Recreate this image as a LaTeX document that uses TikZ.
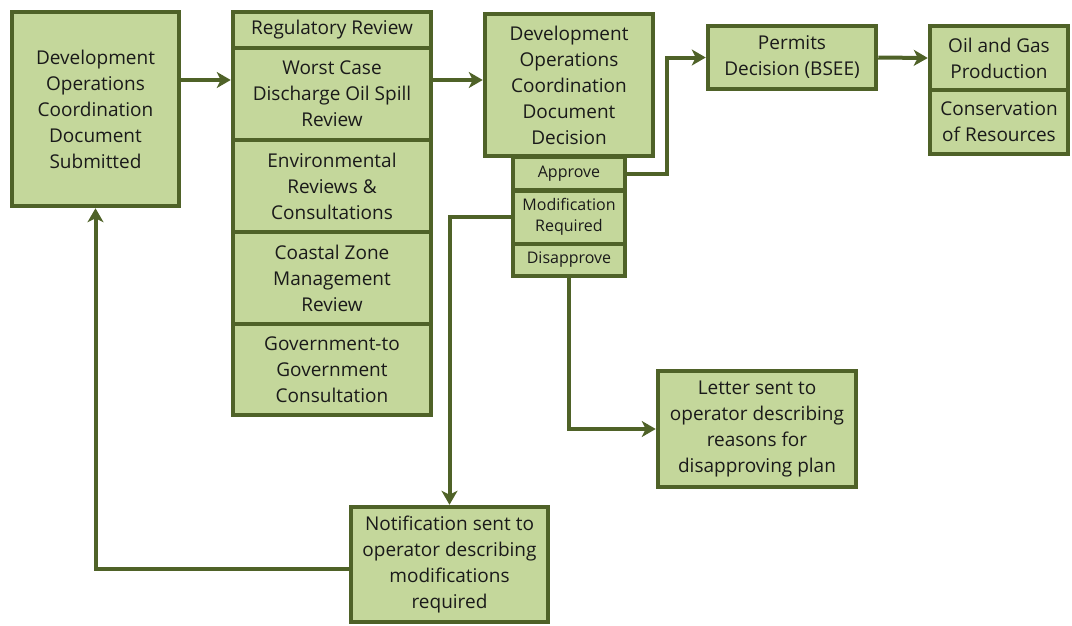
\documentclass[tikz,border=0pt]{standalone}
\usepackage{fontspec}
\setmainfont{Open Sans}
\usetikzlibrary{arrows, arrows.meta}
\usetikzlibrary{calc}

\definecolor{boxfill}{HTML}{C4D79B}
\definecolor{boxline}{HTML}{4F6228}
\definecolor{boxtext}{HTML}{1A1A1A}

\tikzset{
  box/.style={rectangle, draw=boxline, fill=boxfill, line width=4.5pt, inner sep=0pt,
    align=center, text=boxtext, font=\fontsize{19}{26}\selectfont},
  smallbox/.style={box, line width=4pt, font=\fontsize{16}{21}\selectfont},
  flow/.style={draw=boxline, line width=4pt, -{Stealth[length=14pt, width=16pt, inset=4pt]}},
}

\begin{document}
\begin{tikzpicture}[x=1pt, y=-1pt]
      \useasboundingbox (0,0) rectangle (1072,625);

      % first column
      \node[box, minimum width=167pt, minimum height=194pt] (sub) at (95.5,109)
        {Development\\Operations\\Coordination\\Document\\Submitted};

      % review stack
      \node[box, minimum width=198pt, minimum height=36pt] (reg) at (332,30) {Regulatory Review};
      \node[box, minimum width=198pt, minimum height=92pt] (worst) at (332,94) {Worst Case\\Discharge Oil Spill\\Review};
      \node[box, minimum width=198pt, minimum height=92pt] (env) at (332,186) {Environmental\\Reviews \&\\Consultations};
      \node[box, minimum width=198pt, minimum height=92pt] (czm) at (332,278) {Coastal Zone\\Management\\Review};
      \node[box, minimum width=198pt, minimum height=91pt] (g2g) at (332,369.5) {Government-to\\Government\\Consultation};

      % decision
      \node[box, minimum width=168pt, minimum height=142pt] (docd) at (569,85)
        {Development\\Operations\\Coordination\\Document\\Decision};
      \node[smallbox, minimum width=112pt, minimum height=33pt] (approve) at (569,173.5) {Approve};
      \node[smallbox, minimum width=112pt, minimum height=53pt] (modif) at (569,217) {Modification\\Required};
      \node[smallbox, minimum width=112pt, minimum height=32pt] (disappr) at (569,259.5) {Disapprove};

      % permits and production
      \node[box, minimum width=168pt, minimum height=63pt] (permits) at (792,57.5) {Permits\\Decision (BSEE)};
      \node[box, minimum width=138pt, minimum height=64pt] (prod) at (999,58) {Oil and Gas\\Production};
      \node[box, minimum width=138pt, minimum height=64pt] (cons) at (999,122) {Conservation\\of Resources};

      % outcomes
      \node[box, minimum width=198pt, minimum height=116pt] (letter) at (757,429)
        {Letter sent to\\operator describing\\reasons for\\disapproving plan};
      \node[box, minimum width=197pt, minimum height=115pt] (notif) at (449.5,564.5)
        {Notification sent to\\operator describing\\modifications\\required};

      \draw[flow] ([yshift=29pt]sub.east) coordinate (s1) -- (s1 -| worst.west);
      \draw[flow] ([yshift=14pt]worst.east) coordinate (s2) -- (s2 -| docd.west);
      \draw[flow] (approve.east) -- ++(40,0) |- (permits.west);
      \draw[flow] (permits.east) -- (prod.west);
      \draw[flow] (modif.west) -| (notif.north);
      \draw[flow] (disappr.south) |- (letter.west);
      \draw[flow] ([yshift=-4pt]notif.west) -| (sub.south);
    \end{tikzpicture}
\end{document}
